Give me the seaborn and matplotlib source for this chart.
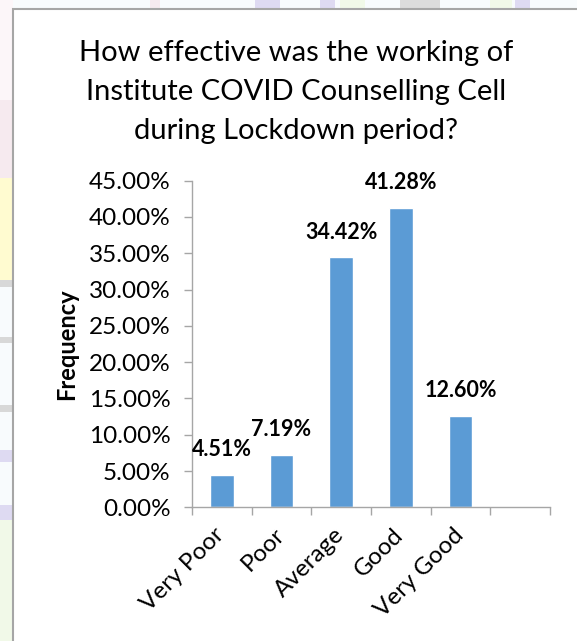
import pandas as pd
import matplotlib.pyplot as plt
import matplotlib.transforms as mtransforms
from matplotlib.patches import Rectangle
from matplotlib.ticker import PercentFormatter, FixedLocator
import seaborn as sns

# данные
categories = ["Very Poor", "Poor", "Average", "Good", "Very Good"]
frequency = [4.51, 7.19, 34.42, 41.28, 12.60]
y_ticks = [0, 5, 10, 15, 20, 25, 30, 35, 40, 45]
title_lines = ["How effective was the working of",
               "Institute COVID Counselling Cell",
               "during Lockdown period?"]

df = pd.DataFrame({"rating": categories, "freq": frequency})

sns.set_theme(style="white")
plt.rcParams['font.family'] = ['Lato', 'DejaVu Sans']

W, H = 577, 641
fig = plt.figure(figsize=(W / 100, H / 100), dpi=100)
fig.set_facecolor("#F8FBFD")

# фон-водяной знак слева и сверху
def strip(x0, y0, x1, y1, color):
    fig.patches.append(Rectangle((x0 / W, 1 - y1 / H), (x1 - x0) / W, (y1 - y0) / H,
                                 transform=fig.transFigure, color=color, lw=0, zorder=0))

strip(0, 0, 13, 100, "#FCF6F9")
strip(0, 100, 13, 178, "#F6EAEF")
strip(0, 178, 13, 280, "#FFFBD0")
strip(0, 280, 13, 287, "#D8D8D8")
strip(0, 337, 13, 343, "#D8D8D8")
strip(0, 405, 13, 412, "#D8D8D8")
strip(0, 450, 13, 462, "#DEDAF2")
strip(0, 505, 13, 520, "#DEDAF2")
strip(0, 520, 13, 641, "#F1F9E8")
strip(150, 0, 160, 9, "#F6EAEF")
strip(255, 0, 280, 9, "#DEDAF2")
strip(320, 0, 335, 9, "#DEDAF2")
strip(340, 0, 365, 9, "#F1F9E8")
strip(400, 0, 440, 9, "#DCDCDC")
strip(490, 0, 512, 9, "#F1F9E8")
strip(515, 0, 530, 9, "#DEDAF2")

# рамка диаграммы
fig.patches.append(Rectangle((13 / W, -0.01), 1, 1 + 0.01 - 9 / H, transform=fig.transFigure,
                             facecolor="white", edgecolor="#A6A6A6", lw=1.5, zorder=1))

ax = fig.add_axes([192 / W, (H - 507.3) / H, 358 / W, 326.6 / H])
ax.set_zorder(2)
ax.patch.set_alpha(0)

sns.barplot(data=df, x="rating", y="freq", color="#5B9BD5", saturation=1, width=0.4, ax=ax)

for i, v in enumerate(frequency):
    ax.annotate(f"{v:.2f}%", (i, v), xytext=(0, 13.5), textcoords="offset points",
                ha="center", va="baseline", fontsize=15.5, fontweight="bold", color="black")

ax.set_xlim(-0.5, 5.5)
ax.set_ylim(0, 45)
ax.set_yticks(y_ticks)
ax.yaxis.set_major_formatter(PercentFormatter(xmax=100, decimals=2))

ax.xaxis.set_minor_locator(FixedLocator([i - 0.5 for i in range(7)]))
ax.set_xticks(range(len(categories)))
ax.set_xticklabels([])

# подписи категорий под углом 45°
shift = mtransforms.ScaledTranslation(-8 / 100, -17 / 100, fig.dpi_scale_trans)
for i, name in enumerate(categories):
    ax.text(i, 0, name, transform=ax.get_xaxis_transform() + shift,
            rotation=45, ha="right", va="top", rotation_mode="anchor",
            fontsize=17.5, color="black")

ax.tick_params(axis="x", which="major", length=0)
ax.tick_params(axis="x", which="minor", bottom=True, length=6, width=1, color="#A6A6A6")
ax.tick_params(axis="y", which="major", left=True, length=6, width=1, color="#A6A6A6",
               pad=9.5, labelsize=17.5, labelcolor="black")

ax.set_xlabel("")
ax.set_ylabel("Frequency", fontsize=17, fontweight="bold", color="black", labelpad=0)
ax.yaxis.set_label_coords(-0.318, 0.5)

for side in ["top", "right"]:
    ax.spines[side].set_visible(False)
for side in ["left", "bottom"]:
    ax.spines[side].set_color("#A6A6A6")
    ax.spines[side].set_linewidth(1)

# заголовок в три строки
for line, base in zip(title_lines, [60.7, 100, 138.5]):
    fig.text(296 / W, 1 - base / H, line, ha="center", va="baseline",
             fontsize=21, color="black", zorder=3)

plt.savefig("out.png", dpi=100, facecolor=fig.get_facecolor())
